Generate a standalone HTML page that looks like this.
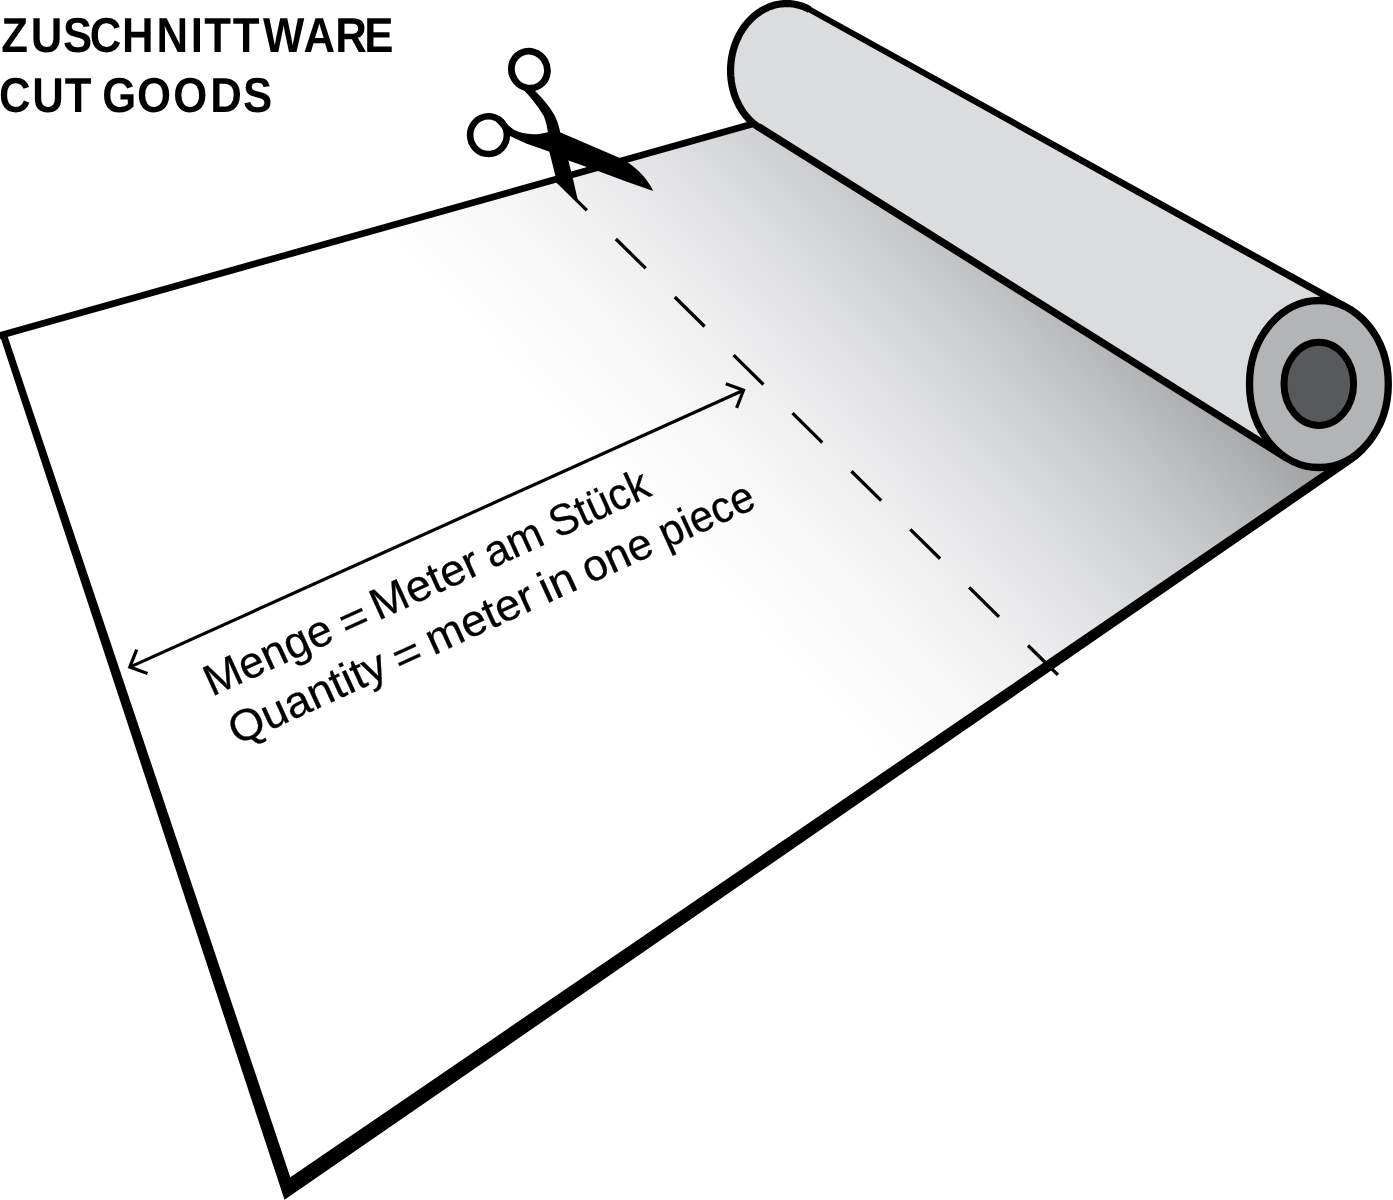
<!DOCTYPE html>
<html lang="de">
<head>
<meta charset="utf-8">
<title>Zuschnittware / Cut goods</title>
<style>
html,body{margin:0;padding:0;background:#fff;}
body{width:1393px;height:1200px;overflow:hidden;}
svg{display:block;will-change:transform;}
text{font-family:"Liberation Sans",sans-serif;fill:#000;text-rendering:geometricPrecision;}
</style>
</head>
<body>
<svg width="1393" height="1200" viewBox="0 0 1393 1200">
<defs>
<linearGradient id="sheetg" gradientUnits="userSpaceOnUse" x1="0.0" y1="-0.0" x2="473.2" y2="-445.3">
<stop offset="0.0000" stop-color="#ffffff"/>
<stop offset="0.0385" stop-color="#ffffff"/>
<stop offset="0.0769" stop-color="#ffffff"/>
<stop offset="0.1154" stop-color="#ffffff"/>
<stop offset="0.1538" stop-color="#ffffff"/>
<stop offset="0.1923" stop-color="#fefefe"/>
<stop offset="0.2308" stop-color="#fcfcfc"/>
<stop offset="0.2692" stop-color="#fbfbfb"/>
<stop offset="0.3077" stop-color="#f9f9f9"/>
<stop offset="0.3462" stop-color="#f7f7f7"/>
<stop offset="0.3846" stop-color="#f4f4f5"/>
<stop offset="0.4231" stop-color="#f1f1f2"/>
<stop offset="0.4615" stop-color="#eeeeef"/>
<stop offset="0.5000" stop-color="#eaeaec"/>
<stop offset="0.5385" stop-color="#e6e6e8"/>
<stop offset="0.5769" stop-color="#e2e2e4"/>
<stop offset="0.6154" stop-color="#dcdddf"/>
<stop offset="0.6538" stop-color="#d7d8da"/>
<stop offset="0.6923" stop-color="#d2d3d5"/>
<stop offset="0.7308" stop-color="#cdced0"/>
<stop offset="0.7692" stop-color="#c7c8ca"/>
<stop offset="0.8077" stop-color="#c1c2c4"/>
<stop offset="0.8462" stop-color="#babbbd"/>
<stop offset="0.8846" stop-color="#b3b4b6"/>
<stop offset="0.9231" stop-color="#acadaf"/>
<stop offset="0.9615" stop-color="#a5a6a8"/>
<stop offset="1.0000" stop-color="#9d9ea0"/>
</linearGradient>
</defs>
<rect width="1393" height="1200" fill="#fff"/>
<!-- sheet -->
<polygon points="4.0,335.0 752.0,124.3 760.0,127.6 1287.0,458.4 1330.0,468.0 290.3,1177.2" fill="url(#sheetg)"/>
<!-- sheet outline -->
<line x1="-2" y1="336.0" x2="756.0" y2="123.1" stroke="#000" stroke-width="6.7"/>
<polygon points="-1.2,332.4 284.5,1199.8 1350.0,464.3 1358.0,458.6 1366.0,451.0 1340.0,462.0 1326.0,469.8 290.3,1177.2 7.9,337.3 6.0,335.0" fill="#000"/>
<!-- roll body -->
<path d="M1347.9,308.2 L809.51,9.53 L806.88,8.17 L804.19,6.99 L801.45,5.97 L798.67,5.13 L795.85,4.46 L793.01,3.97 L790.14,3.66 L787.26,3.53 L784.38,3.58 L781.50,3.81 L778.63,4.23 L775.78,4.82 L772.96,5.58 L770.17,6.52 L767.42,7.64 L764.73,8.92 L762.09,10.37 L759.52,11.98 L757.01,13.75 L754.59,15.67 L752.25,17.74 L750.00,19.95 L747.85,22.29 L745.81,24.77 L743.87,27.37 L742.05,30.08 L740.35,32.90 L738.77,35.82 L737.32,38.83 L736.00,41.92 L734.82,45.09 L733.78,48.33 L732.88,51.62 L732.13,54.96 L731.52,58.35 L731.06,61.76 L730.75,65.19 L730.59,68.64 L730.58,72.08 L730.73,75.52 L731.02,78.94 L731.46,82.33 L732.06,85.69 L732.79,89.01 L733.68,92.27 L734.71,95.46 L735.87,98.59 L737.18,101.63 L738.61,104.59 L740.18,107.45 L741.87,110.20 L743.68,112.84 L745.60,115.37 L747.63,117.76 L749.77,120.02 L752.01,122.15 L754.34,124.13 L756.76,125.95 L759.25,127.63 L1287.0,458.4 L1347.9,308.2 Z" fill="#dbdcde"/>
<path d="M809.51,9.53 L806.88,8.17 L804.19,6.99 L801.45,5.97 L798.67,5.13 L795.85,4.46 L793.01,3.97 L790.14,3.66 L787.26,3.53 L784.38,3.58 L781.50,3.81 L778.63,4.23 L775.78,4.82 L772.96,5.58 L770.17,6.52 L767.42,7.64 L764.73,8.92 L762.09,10.37 L759.52,11.98 L757.01,13.75 L754.59,15.67 L752.25,17.74 L750.00,19.95 L747.85,22.29 L745.81,24.77 L743.87,27.37 L742.05,30.08 L740.35,32.90 L738.77,35.82 L737.32,38.83 L736.00,41.92 L734.82,45.09 L733.78,48.33 L732.88,51.62 L732.13,54.96 L731.52,58.35 L731.06,61.76 L730.75,65.19 L730.59,68.64 L730.58,72.08 L730.73,75.52 L731.02,78.94 L731.46,82.33 L732.06,85.69 L732.79,89.01 L733.68,92.27 L734.71,95.46 L735.87,98.59 L737.18,101.63 L738.61,104.59 L740.18,107.45 L741.87,110.20 L743.68,112.84 L745.60,115.37 L747.63,117.76 L749.77,120.02 L752.01,122.15 L754.34,124.13 L756.76,125.95 L759.25,127.63" fill="none" stroke="#000" stroke-width="7.2" stroke-linejoin="round"/>
<polygon points="807.2,11.6 1346.1,311.3 1349.7,305.0 810.1,6.5" fill="#000"/>
<polygon points="756.4,129.9 1285.1,461.4 1288.9,455.4 760.4,123.4" fill="#000"/>
<ellipse cx="1318.9" cy="384.0" rx="69.4" ry="83.5" fill="#b3b4b6" stroke="#000" stroke-width="7.3"/>
<ellipse cx="1318.8" cy="383.8" rx="34.8" ry="41.6" fill="#58595b" stroke="#000" stroke-width="7"/>
<!-- cut line -->
<line x1="557.0" y1="180.9" x2="1058.2" y2="675.2" stroke="#000" stroke-width="3.3" stroke-dasharray="41.9 40.8"/>
<!-- arrow -->
<line x1="129.8" y1="667.1" x2="743.5" y2="390.3" stroke="#000" stroke-width="3.2"/>
<path d="M136.7,649.6 L129.8,667.1 L147.5,673.6" fill="none" stroke="#000" stroke-width="3.2" stroke-linejoin="miter"/>
<path d="M736.6,407.8 L743.5,390.3 L725.8,383.8" fill="none" stroke="#000" stroke-width="3.2" stroke-linejoin="miter"/>
<!-- labels -->
<g transform="translate(212.8,696.5) rotate(-24.6)" font-size="44" stroke="#000" stroke-width="0.3">
<text><tspan x="-0.9" y="0.0" textLength="136.4" lengthAdjust="spacingAndGlyphs">Menge</tspan> <tspan x="146.3" y="2.8" textLength="28.1" lengthAdjust="spacingAndGlyphs">=</tspan> <tspan x="182.1" y="0.0" textLength="115.3" lengthAdjust="spacingAndGlyphs">Meter</tspan> <tspan x="306.7" y="0.0" textLength="60.5" lengthAdjust="spacingAndGlyphs">am</tspan> <tspan x="378.9" y="0.0" textLength="105.4" lengthAdjust="spacingAndGlyphs">Stück</tspan></text>
<text><tspan x="1.4" y="54.6" textLength="168.7" lengthAdjust="spacingAndGlyphs">Quantity</tspan> <tspan x="180.2" y="57.4" textLength="28.0" lengthAdjust="spacingAndGlyphs">=</tspan> <tspan x="217.8" y="54.6" textLength="115.2" lengthAdjust="spacingAndGlyphs">meter</tspan> <tspan x="342.1" y="54.6" textLength="36.6" lengthAdjust="spacingAndGlyphs">in</tspan> <tspan x="389.3" y="54.6" textLength="73.4" lengthAdjust="spacingAndGlyphs">one</tspan> <tspan x="473.9" y="54.6" textLength="100.7" lengthAdjust="spacingAndGlyphs">piece</tspan></text>
</g>
<text transform="scale(0.89,1)" x="1.30 34.51 70.68 100.85 137.14 175.79 214.40 229.37 261.56 295.50 341.04 376.58 409.32" y="51.7" font-size="49.2" font-weight="bold">ZUSCHNITTWARE</text>
<text transform="scale(0.89,1)" x="-1.11 36.19 72.80 93.79 114.79 154.01 194.69 236.18 273.15" y="111.5" font-size="49.2" font-weight="bold">CUT GOODS</text>
<!-- scissors -->
<g id="scissors" fill="#000" stroke="none">
<ellipse cx="529.4" cy="69.7" rx="17.8" ry="18.7" fill="none" stroke="#000" stroke-width="6.8" transform="rotate(-30 529.4 69.7)"/>
<ellipse cx="488.5" cy="135.1" rx="18.4" ry="18.9" fill="none" stroke="#000" stroke-width="6.6"/>
<path d="M514.5,80.5 C516.5,83 518.5,85 520.3,86.5 C528.9,95.1 537.5,105.5 543.6,115.8 C546,121 547.5,128 547.9,133 L549.5,152.2 L555.5,176.3 L557.2,183.2 L578,201 L577.5,198.7 L573.2,179.8 L568.4,160.4 L560.5,134 C559.5,128 557.5,121 554.8,115.8 C550,107 543,98.6 534.9,90.8 Z"/>
<path d="M488.4,113.2 C496.2,114 504.8,122.7 513.4,129.6 C519,132.5 526,134.3 533.2,134.3 C538,134.3 543,133.4 547.9,132.2 L559.4,132 L619.3,157.8 C634,165 646,176 653.3,191 L626.1,181.5 L599.4,171.6 L568.4,160.4 L550.3,152 L526.1,143.4 L508.9,135.6 Z"/>
</g>
</svg>
</body>
</html>
